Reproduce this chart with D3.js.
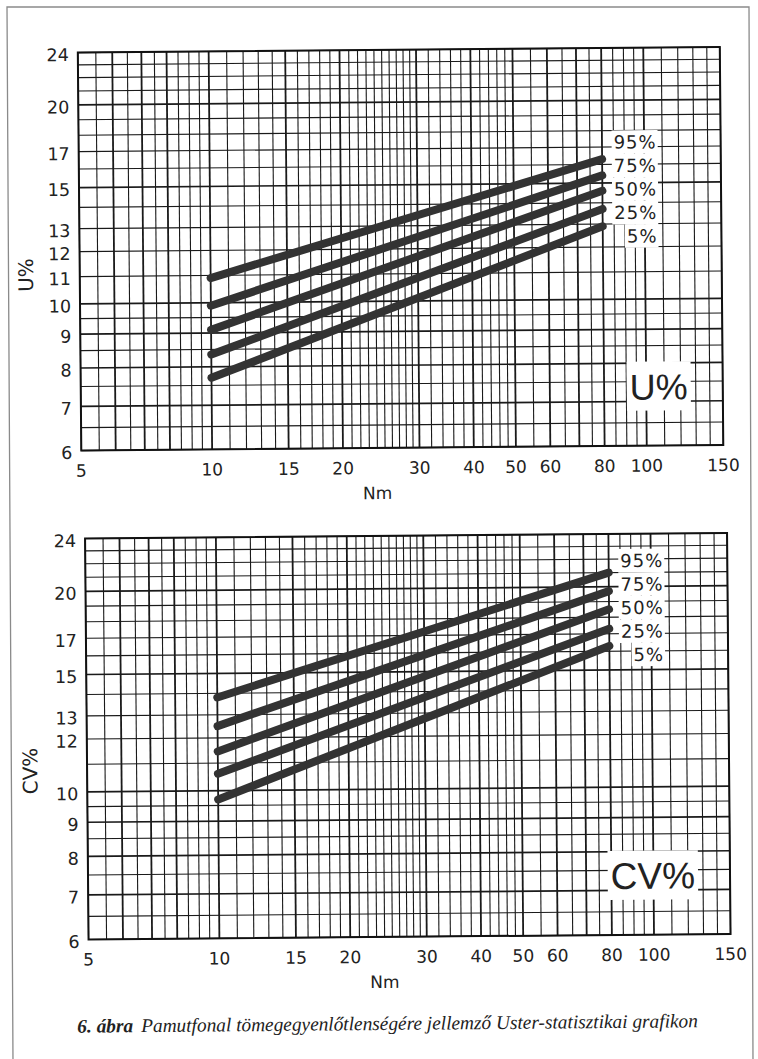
<!DOCTYPE html>
<html>
<head>
<meta charset="utf-8">
<script src="https://cdn.jsdelivr.net/npm/d3@7"></script>
<style>
body { margin: 0; background: #fff; }
svg { display: block; }
</style>
</head>
<body>
<div id="chart"></div>
<script>
var width = 758
var height = 1059

// Nm values where the percentile lines start and end
var nmEnds = [10, 80]
var percentiles = ["95%", "75%", "50%", "25%", "5%"]

// U% at Nm 10 and Nm 80
var u95 = [10.9, 16.3]
var u75 = [9.9, 15.4]
var u50 = [9.1, 14.6]
var u25 = [8.35, 13.7]
var u5 = [7.7, 12.9]

// CV% at Nm 10 and Nm 80
var cv95 = [13.8, 21.0]
var cv75 = [12.5, 19.7]
var cv50 = [11.45, 18.5]
var cv25 = [10.6, 17.3]
var cv5 = [9.7, 16.3]

var xTickLabels = [5, 10, 15, 20, 30, 40, 50, 60, 80, 100, 150]
var uTickLabels = [6, 7, 8, 9, 10, 11, 12, 13, 15, 17, 20, 24]
var cvTickLabels = [6, 7, 8, 9, 10, 12, 13, 15, 17, 20, 24]

// graph paper lines
var xGrid = d3.range(5, 10, 0.5).concat(d3.range(10, 30, 1), d3.range(30, 50, 2), d3.range(50, 100, 5), d3.range(100, 151, 10))
var yGrid = d3.range(6, 10, 0.5).concat(d3.range(10, 25, 1))
var xBold = [6, 7, 8, 10, 15, 20, 30, 40, 50, 60, 70, 80, 100]
var yBold = [7, 8, 9, 10, 15, 20]

var svg = d3.select("#chart")
    .append("svg")
        .attr("width", width)
        .attr("height", height)

// page frame (scan border)
svg.append("path")
    .attr("d", "M13,1062 L7,7 L749,7 L753,1062")
    .attr("fill", "none")
    .attr("stroke", "#8a8a8a")
    .attr("stroke-width", 1.3)

// the scanned page is a little tilted
var page = svg.append("g")
    .attr("transform", "rotate(-0.5, 379, 530)")

function drawChart(box, series, yTicks, axisTitle, titleY, bigTitle, bigSize) {
    var g = page.append("g")

    var x = d3.scaleLog().domain([5, 150]).range([box.left, box.right])
    var y = d3.scaleLog().domain([6, 24]).range([box.bottom, box.top])

    g.selectAll(".vgrid")
        .data(xGrid)
        .enter().append("line")
            .attr("class", "vgrid")
            .attr("x1", function(d) { return x(d) })
            .attr("x2", function(d) { return x(d) })
            .attr("y1", box.top)
            .attr("y2", box.bottom)
            .attr("stroke", "#1a1a1a")
            .attr("stroke-width", function(d) { return xBold.indexOf(d) >= 0 ? 1.8 : 1.1 })

    g.selectAll(".hgrid")
        .data(yGrid)
        .enter().append("line")
            .attr("class", "hgrid")
            .attr("x1", box.left)
            .attr("x2", box.right)
            .attr("y1", function(d) { return y(d) })
            .attr("y2", function(d) { return y(d) })
            .attr("stroke", "#1a1a1a")
            .attr("stroke-width", function(d) { return yBold.indexOf(d) >= 0 ? 1.7 : 1.1 })

    g.append("rect")
        .attr("x", box.left)
        .attr("y", box.top)
        .attr("width", box.right - box.left)
        .attr("height", box.bottom - box.top)
        .attr("fill", "none")
        .attr("stroke", "#111")
        .attr("stroke-width", 2)

    // percentile lines
    var line = d3.line()
        .x(function(d) { return x(d[0]) })
        .y(function(d) { return y(d[1]) })

    g.selectAll(".pct")
        .data(series)
        .enter().append("path")
            .attr("class", "pct")
            .attr("d", function(s) { return line(nmEnds.map(function(n, i) { return [n, s[i]] })) })
            .attr("fill", "none")
            .attr("stroke", "#333")
            .attr("stroke-width", 8)
            .attr("stroke-linecap", "round")

    // percentile labels, white boxes over the grid
    var midY = y(series[2][1]) - 1.5
    percentiles.forEach(function(p, i) {
        var cy = midY + (i - 2) * 23.5
        var gl = g.append("g")
        var r = gl.append("rect").attr("fill", "#fff")
        var t = gl.append("text")
            .attr("x", box.right - 64)
            .attr("y", cy)
            .attr("dy", "0.36em")
            .attr("text-anchor", "end")
            .attr("font-family", "DejaVu Sans, sans-serif")
            .attr("font-size", 18)
            .attr("letter-spacing", 1)
            .attr("fill", "#222")
            .text(p)
        var bb = t.node().getBBox()
        r.attr("x", bb.x - 2)
            .attr("y", cy - 11.75)
            .attr("width", bb.width + 3)
            .attr("height", 23.5)
    })

    // big title inside the grid
    var gb = g.append("g")
    var rb = gb.append("rect").attr("fill", "#fff")
    var tb = gb.append("text")
        .attr("x", box.right - 35)
        .attr("y", box.bottom - 46)
        .attr("text-anchor", "end")
        .attr("font-family", "Liberation Sans, Arial, sans-serif")
        .attr("font-size", bigSize)
        .attr("fill", "#222")
        .text(bigTitle)
    var bbb = tb.node().getBBox()
    rb.attr("x", bbb.x - 3)
        .attr("y", box.bottom - 46 - 38)
        .attr("width", bbb.width + 6)
        .attr("height", 49)

    // tick labels
    g.selectAll(".ylab")
        .data(yTicks)
        .enter().append("text")
            .attr("class", "ylab")
            .attr("x", box.left - 9)
            .attr("y", function(d) { return y(d) + 2 })
            .attr("dy", "0.36em")
            .attr("text-anchor", "end")
            .attr("font-family", "DejaVu Sans, sans-serif")
            .attr("font-size", 17.5)
            .attr("fill", "#222")
            .text(function(d) { return d })

    g.selectAll(".xlab")
        .data(xTickLabels)
        .enter().append("text")
            .attr("class", "xlab")
            .attr("x", function(d) { return x(d) })
            .attr("y", box.bottom + 26)
            .attr("text-anchor", "middle")
            .attr("font-family", "DejaVu Sans, sans-serif")
            .attr("font-size", 17)
            .attr("fill", "#222")
            .text(function(d) { return d })

    g.append("text")
        .attr("x", box.left + 296)
        .attr("y", box.bottom + 51)
        .attr("text-anchor", "middle")
        .attr("font-family", "DejaVu Sans, sans-serif")
        .attr("font-size", 17)
        .attr("fill", "#222")
        .text("Nm")

    g.append("text")
        .attr("transform", "translate(28," + titleY + ") rotate(-90)")
        .attr("dy", "0.36em")
        .attr("text-anchor", "middle")
        .attr("font-family", "DejaVu Sans, sans-serif")
        .attr("font-size", 20)
        .attr("fill", "#222")
        .text(axisTitle)
}

drawChart({left: 82, right: 724, top: 50, bottom: 448},
    [u95, u75, u50, u25, u5], uTickLabels, "U%", 272, "U%", 36)

drawChart({left: 85, right: 727, top: 536, bottom: 937},
    [cv95, cv75, cv50, cv25, cv5], cvTickLabels, "CV%", 768, "CV%", 37)

// caption
var cap = page.append("text")
    .attr("x", 73)
    .attr("y", 1030)
    .attr("font-family", "Liberation Serif, Times New Roman, serif")
    .attr("font-style", "italic")
    .attr("font-size", 18)
    .attr("fill", "#222")
cap.append("tspan")
    .attr("font-weight", "bold")
    .text("6. ábra")
cap.append("tspan")
    .attr("dx", 8)
    .text("Pamutfonal tömegegyenlőtlenségére jellemző Uster-statisztikai grafikon")
var capLen = cap.node().getComputedTextLength()
cap.attr("font-size", 18 * 613 / capLen)
</script>
</body>
</html>
